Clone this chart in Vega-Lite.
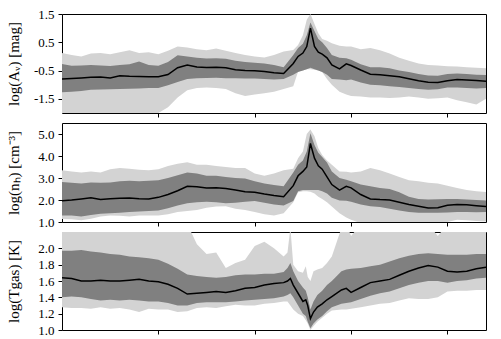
{
  "$schema": "https://vega.github.io/schema/vega-lite/v6.json",
  "padding": {"left": 5, "top": 7, "right": 5, "bottom": 5},
  "background": "white",
  "datasets": {
    "av": [
      {"x":0,"m":-0.80,"d1":-0.27,"d2":-1.27,"l1":0.12,"l2":-2.0},
      {"x":0.5,"m":-0.78,"d1":-0.33,"d2":-1.25,"l1":0.05,"l2":-2.0},
      {"x":1,"m":-0.76,"d1":-0.32,"d2":-1.22,"l1":0.0,"l2":-2.0},
      {"x":1.5,"m":-0.74,"d1":-0.30,"d2":-1.18,"l1":0.10,"l2":-2.0},
      {"x":2,"m":-0.73,"d1":-0.32,"d2":-1.17,"l1":0.12,"l2":-2.0},
      {"x":2.5,"m":-0.76,"d1":-0.34,"d2":-1.16,"l1":0.08,"l2":-2.0},
      {"x":3,"m":-0.68,"d1":-0.30,"d2":-1.15,"l1":0.15,"l2":-2.0},
      {"x":3.5,"m":-0.70,"d1":-0.28,"d2":-1.14,"l1":0.22,"l2":-2.0},
      {"x":4,"m":-0.71,"d1":-0.18,"d2":-1.13,"l1":0.12,"l2":-2.0},
      {"x":4.5,"m":-0.72,"d1":-0.30,"d2":-1.12,"l1":0.15,"l2":-2.0},
      {"x":5,"m":-0.72,"d1":-0.33,"d2":-1.12,"l1":0.08,"l2":-2.0},
      {"x":5.5,"m":-0.64,"d1":-0.20,"d2":-1.02,"l1":0.20,"l2":-1.8},
      {"x":6,"m":-0.40,"d1":0.04,"d2":-0.90,"l1":0.35,"l2":-1.45},
      {"x":6.5,"m":-0.30,"d1":0.00,"d2":-0.80,"l1":0.32,"l2":-1.20},
      {"x":7,"m":-0.37,"d1":-0.05,"d2":-0.77,"l1":0.25,"l2":-1.12},
      {"x":7.5,"m":-0.39,"d1":-0.07,"d2":-0.76,"l1":0.22,"l2":-1.10},
      {"x":8,"m":-0.38,"d1":-0.06,"d2":-0.75,"l1":0.28,"l2":-1.12},
      {"x":8.5,"m":-0.40,"d1":-0.08,"d2":-0.77,"l1":0.20,"l2":-1.15},
      {"x":9,"m":-0.47,"d1":-0.15,"d2":-0.77,"l1":0.12,"l2":-1.30},
      {"x":9.5,"m":-0.50,"d1":-0.20,"d2":-0.78,"l1":0.05,"l2":-1.40},
      {"x":10,"m":-0.51,"d1":-0.22,"d2":-0.78,"l1":0.00,"l2":-1.35},
      {"x":10.5,"m":-0.53,"d1":-0.25,"d2":-0.80,"l1":-0.04,"l2":-1.30},
      {"x":11,"m":-0.58,"d1":-0.30,"d2":-0.82,"l1":0.05,"l2":-1.25},
      {"x":11.5,"m":-0.60,"d1":-0.38,"d2":-0.80,"l1":0.17,"l2":-1.15},
      {"x":12,"m":-0.25,"d1":0.05,"d2":-0.65,"l1":0.23,"l2":-1.05},
      {"x":12.25,"m":0.0,"d1":0.30,"d2":-0.55,"l1":0.40,"l2":-0.53},
      {"x":12.5,"m":0.12,"d1":0.45,"d2":-0.50,"l1":0.75,"l2":-0.50},
      {"x":12.7,"m":0.35,"d1":0.75,"d2":-0.45,"l1":1.30,"l2":-0.45},
      {"x":12.89,"m":1.0,"d1":1.2,"d2":-0.40,"l1":1.5,"l2":-0.45},
      {"x":13.1,"m":0.35,"d1":0.9,"d2":-0.45,"l1":1.15,"l2":-0.47},
      {"x":13.3,"m":0.15,"d1":0.62,"d2":-0.50,"l1":0.82,"l2":-0.50},
      {"x":13.5,"m":0.08,"d1":0.5,"d2":-0.55,"l1":0.62,"l2":-0.55},
      {"x":13.75,"m":-0.05,"d1":0.3,"d2":-0.65,"l1":0.55,"l2":-0.8},
      {"x":14,"m":-0.30,"d1":0.05,"d2":-0.80,"l1":0.47,"l2":-1.0},
      {"x":14.4,"m":-0.44,"d1":-0.05,"d2":-0.82,"l1":0.38,"l2":-1.25},
      {"x":14.75,"m":-0.26,"d1":-0.06,"d2":-0.84,"l1":0.35,"l2":-1.35},
      {"x":15,"m":-0.32,"d1":-0.12,"d2":-0.82,"l1":0.35,"l2":-1.40},
      {"x":15.5,"m":-0.48,"d1":-0.28,"d2":-0.92,"l1":0.25,"l2":-1.42},
      {"x":16,"m":-0.63,"d1":-0.38,"d2":-1.0,"l1":0.30,"l2":-1.45},
      {"x":16.5,"m":-0.65,"d1":-0.38,"d2":-1.02,"l1":0.22,"l2":-1.45},
      {"x":17,"m":-0.68,"d1":-0.42,"d2":-1.05,"l1":0.10,"l2":-1.47},
      {"x":17.5,"m":-0.72,"d1":-0.50,"d2":-1.08,"l1":-0.05,"l2":-1.45},
      {"x":18,"m":-0.79,"d1":-0.55,"d2":-1.12,"l1":-0.15,"l2":-1.42},
      {"x":18.5,"m":-0.86,"d1":-0.62,"d2":-1.15,"l1":-0.25,"l2":-1.45},
      {"x":19,"m":-0.91,"d1":-0.67,"d2":-1.18,"l1":-0.30,"l2":-1.50},
      {"x":19.5,"m":-0.92,"d1":-0.68,"d2":-1.16,"l1":-0.32,"l2":-1.48},
      {"x":20,"m":-0.86,"d1":-0.62,"d2":-1.10,"l1":-0.35,"l2":-1.45},
      {"x":20.5,"m":-0.82,"d1":-0.60,"d2":-1.10,"l1":-0.36,"l2":-1.55},
      {"x":21,"m":-0.83,"d1":-0.62,"d2":-1.12,"l1":-0.38,"l2":-1.62},
      {"x":21.5,"m":-0.85,"d1":-0.65,"d2":-1.13,"l1":-0.40,"l2":-1.70},
      {"x":22,"m":-0.88,"d1":-0.66,"d2":-1.12,"l1":-0.42,"l2":-1.50}
    ],
    "nh": [
      {"x":0,"m":1.97,"d1":2.82,"d2":1.29,"l1":3.35,"l2":1.14},
      {"x":0.5,"m":2.0,"d1":2.78,"d2":1.30,"l1":3.30,"l2":1.12},
      {"x":1,"m":2.05,"d1":2.75,"d2":1.25,"l1":3.25,"l2":1.08},
      {"x":1.5,"m":2.10,"d1":2.80,"d2":1.32,"l1":3.30,"l2":1.15},
      {"x":2,"m":2.02,"d1":2.78,"d2":1.38,"l1":3.25,"l2":1.25},
      {"x":2.5,"m":2.06,"d1":2.80,"d2":1.40,"l1":3.40,"l2":1.30},
      {"x":3,"m":2.08,"d1":2.85,"d2":1.42,"l1":3.45,"l2":1.28},
      {"x":3.5,"m":2.09,"d1":2.87,"d2":1.45,"l1":3.42,"l2":1.25},
      {"x":4,"m":2.06,"d1":2.85,"d2":1.48,"l1":3.38,"l2":1.30},
      {"x":4.5,"m":2.05,"d1":2.88,"d2":1.50,"l1":3.35,"l2":1.30},
      {"x":5,"m":2.12,"d1":2.90,"d2":1.52,"l1":3.40,"l2":1.30},
      {"x":5.5,"m":2.25,"d1":3.00,"d2":1.62,"l1":3.55,"l2":1.35},
      {"x":6,"m":2.42,"d1":3.12,"d2":1.75,"l1":3.65,"l2":1.45},
      {"x":6.5,"m":2.62,"d1":3.25,"d2":1.85,"l1":3.72,"l2":1.50},
      {"x":7,"m":2.60,"d1":3.20,"d2":1.90,"l1":3.60,"l2":1.55},
      {"x":7.5,"m":2.55,"d1":3.10,"d2":1.92,"l1":3.60,"l2":1.65},
      {"x":8,"m":2.56,"d1":3.10,"d2":1.90,"l1":3.55,"l2":1.70},
      {"x":8.5,"m":2.52,"d1":3.05,"d2":1.85,"l1":3.50,"l2":1.72},
      {"x":9,"m":2.45,"d1":3.00,"d2":1.88,"l1":3.45,"l2":1.60},
      {"x":9.5,"m":2.38,"d1":2.98,"d2":1.92,"l1":3.45,"l2":1.55},
      {"x":10,"m":2.35,"d1":2.85,"d2":1.95,"l1":3.20,"l2":1.45},
      {"x":10.5,"m":2.27,"d1":2.75,"d2":1.88,"l1":3.10,"l2":1.35},
      {"x":11,"m":2.20,"d1":2.68,"d2":1.80,"l1":3.20,"l2":1.30},
      {"x":11.5,"m":2.15,"d1":2.62,"d2":1.75,"l1":3.35,"l2":1.40},
      {"x":12,"m":2.65,"d1":3.25,"d2":1.95,"l1":3.42,"l2":1.90},
      {"x":12.25,"m":3.10,"d1":3.60,"d2":2.40,"l1":3.90,"l2":2.35},
      {"x":12.5,"m":3.30,"d1":3.80,"d2":2.45,"l1":4.20,"l2":2.40},
      {"x":12.7,"m":3.50,"d1":4.20,"d2":2.45,"l1":5.00,"l2":2.40},
      {"x":12.89,"m":4.57,"d1":5.03,"d2":2.45,"l1":5.20,"l2":2.38},
      {"x":13.1,"m":3.90,"d1":4.50,"d2":2.45,"l1":4.90,"l2":2.30},
      {"x":13.3,"m":3.55,"d1":4.15,"d2":2.45,"l1":4.35,"l2":2.15},
      {"x":13.5,"m":3.40,"d1":3.95,"d2":2.40,"l1":4.05,"l2":2.05},
      {"x":13.75,"m":3.05,"d1":3.70,"d2":2.30,"l1":3.80,"l2":1.90},
      {"x":14,"m":2.70,"d1":3.30,"d2":2.10,"l1":3.60,"l2":1.70},
      {"x":14.4,"m":2.45,"d1":3.00,"d2":1.98,"l1":3.30,"l2":1.40},
      {"x":14.75,"m":2.62,"d1":2.92,"d2":1.97,"l1":3.28,"l2":1.20},
      {"x":15,"m":2.55,"d1":2.85,"d2":1.92,"l1":3.25,"l2":1.10},
      {"x":15.5,"m":2.25,"d1":2.70,"d2":1.80,"l1":3.30,"l2":0.95},
      {"x":16,"m":2.05,"d1":2.62,"d2":1.72,"l1":3.45,"l2":0.90},
      {"x":16.5,"m":2.02,"d1":2.55,"d2":1.68,"l1":3.35,"l2":0.90},
      {"x":17,"m":2.00,"d1":2.50,"d2":1.60,"l1":3.20,"l2":0.90},
      {"x":17.5,"m":1.90,"d1":2.35,"d2":1.52,"l1":3.05,"l2":0.90},
      {"x":18,"m":1.80,"d1":2.15,"d2":1.46,"l1":2.90,"l2":0.90},
      {"x":18.5,"m":1.72,"d1":2.05,"d2":1.42,"l1":2.85,"l2":0.90},
      {"x":19,"m":1.64,"d1":2.02,"d2":1.42,"l1":2.78,"l2":0.90},
      {"x":19.5,"m":1.65,"d1":2.03,"d2":1.42,"l1":2.75,"l2":0.90},
      {"x":20,"m":1.76,"d1":2.05,"d2":1.43,"l1":2.65,"l2":1.00},
      {"x":20.5,"m":1.79,"d1":2.05,"d2":1.45,"l1":2.55,"l2":1.10},
      {"x":21,"m":1.78,"d1":2.02,"d2":1.45,"l1":2.45,"l2":1.08},
      {"x":21.5,"m":1.74,"d1":2.00,"d2":1.44,"l1":2.40,"l2":1.05},
      {"x":22,"m":1.70,"d1":1.98,"d2":1.45,"l1":2.36,"l2":1.02}
    ],
    "tg": [
      {"x":0,"m":1.64,"d1":1.97,"d2":1.40,"l1":2.3,"l2":1.28},
      {"x":0.5,"m":1.63,"d1":1.97,"d2":1.41,"l1":2.3,"l2":1.27},
      {"x":1,"m":1.60,"d1":1.98,"d2":1.40,"l1":2.3,"l2":1.27},
      {"x":1.5,"m":1.60,"d1":1.96,"d2":1.38,"l1":2.3,"l2":1.26},
      {"x":2,"m":1.61,"d1":1.95,"d2":1.36,"l1":2.3,"l2":1.28},
      {"x":2.5,"m":1.60,"d1":1.93,"d2":1.37,"l1":2.3,"l2":1.26},
      {"x":3,"m":1.60,"d1":1.92,"d2":1.36,"l1":2.3,"l2":1.27},
      {"x":3.5,"m":1.61,"d1":1.90,"d2":1.37,"l1":2.3,"l2":1.25},
      {"x":4,"m":1.62,"d1":1.89,"d2":1.36,"l1":2.3,"l2":1.22},
      {"x":4.5,"m":1.60,"d1":1.88,"d2":1.35,"l1":2.3,"l2":1.26},
      {"x":5,"m":1.59,"d1":1.86,"d2":1.35,"l1":2.3,"l2":1.25},
      {"x":5.5,"m":1.56,"d1":1.81,"d2":1.33,"l1":2.3,"l2":1.25},
      {"x":6,"m":1.51,"d1":1.75,"d2":1.30,"l1":2.3,"l2":1.22},
      {"x":6.5,"m":1.44,"d1":1.68,"d2":1.30,"l1":2.3,"l2":1.23},
      {"x":7,"m":1.45,"d1":1.66,"d2":1.33,"l1":2.05,"l2":1.27},
      {"x":7.5,"m":1.46,"d1":1.65,"d2":1.34,"l1":1.93,"l2":1.28},
      {"x":8,"m":1.47,"d1":1.64,"d2":1.34,"l1":1.95,"l2":1.27},
      {"x":8.5,"m":1.46,"d1":1.65,"d2":1.34,"l1":1.76,"l2":1.29},
      {"x":9,"m":1.48,"d1":1.67,"d2":1.35,"l1":1.82,"l2":1.31},
      {"x":9.5,"m":1.51,"d1":1.68,"d2":1.36,"l1":1.86,"l2":1.30},
      {"x":10,"m":1.52,"d1":1.68,"d2":1.37,"l1":2.03,"l2":1.30},
      {"x":10.5,"m":1.55,"d1":1.69,"d2":1.38,"l1":2.08,"l2":1.32},
      {"x":11,"m":1.57,"d1":1.69,"d2":1.39,"l1":2.00,"l2":1.33},
      {"x":11.5,"m":1.58,"d1":1.71,"d2":1.41,"l1":1.90,"l2":1.35},
      {"x":11.7,"m":1.60,"d1":1.76,"d2":1.43,"l1":1.95,"l2":1.35},
      {"x":11.85,"m":1.63,"d1":1.82,"d2":1.45,"l1":2.25,"l2":1.30},
      {"x":12,"m":1.55,"d1":1.72,"d2":1.40,"l1":1.80,"l2":1.25},
      {"x":12.25,"m":1.45,"d1":1.60,"d2":1.30,"l1":1.72,"l2":1.20},
      {"x":12.5,"m":1.35,"d1":1.52,"d2":1.20,"l1":1.70,"l2":1.17},
      {"x":12.65,"m":1.37,"d1":1.48,"d2":1.17,"l1":1.78,"l2":1.12},
      {"x":12.75,"m":1.30,"d1":1.40,"d2":1.10,"l1":1.65,"l2":1.08},
      {"x":12.89,"m":1.14,"d1":1.25,"d2":1.02,"l1":1.60,"l2":1.00},
      {"x":13.05,"m":1.22,"d1":1.35,"d2":1.08,"l1":1.72,"l2":1.05},
      {"x":13.25,"m":1.28,"d1":1.43,"d2":1.13,"l1":1.74,"l2":1.10},
      {"x":13.5,"m":1.32,"d1":1.48,"d2":1.17,"l1":1.76,"l2":1.15},
      {"x":13.75,"m":1.37,"d1":1.55,"d2":1.23,"l1":1.82,"l2":1.20},
      {"x":14,"m":1.41,"d1":1.60,"d2":1.28,"l1":1.90,"l2":1.24},
      {"x":14.5,"m":1.49,"d1":1.72,"d2":1.32,"l1":2.25,"l2":1.25},
      {"x":14.75,"m":1.51,"d1":1.74,"d2":1.33,"l1":2.30,"l2":1.25},
      {"x":15,"m":1.46,"d1":1.75,"d2":1.34,"l1":2.15,"l2":1.26},
      {"x":15.5,"m":1.52,"d1":1.76,"d2":1.38,"l1":2.30,"l2":1.28},
      {"x":16,"m":1.58,"d1":1.78,"d2":1.42,"l1":2.30,"l2":1.30},
      {"x":16.5,"m":1.60,"d1":1.80,"d2":1.45,"l1":2.30,"l2":1.32},
      {"x":17,"m":1.62,"d1":1.84,"d2":1.47,"l1":2.30,"l2":1.33},
      {"x":17.5,"m":1.67,"d1":1.88,"d2":1.51,"l1":2.30,"l2":1.36},
      {"x":18,"m":1.72,"d1":1.91,"d2":1.55,"l1":2.30,"l2":1.39},
      {"x":18.5,"m":1.76,"d1":1.93,"d2":1.58,"l1":2.30,"l2":1.38},
      {"x":19,"m":1.79,"d1":1.94,"d2":1.60,"l1":2.30,"l2":1.38},
      {"x":19.5,"m":1.77,"d1":1.93,"d2":1.60,"l1":2.15,"l2":1.40},
      {"x":20,"m":1.72,"d1":1.92,"d2":1.58,"l1":2.30,"l2":1.47},
      {"x":20.5,"m":1.71,"d1":1.92,"d2":1.60,"l1":2.30,"l2":1.48},
      {"x":21,"m":1.72,"d1":1.92,"d2":1.61,"l1":2.30,"l2":1.48},
      {"x":21.5,"m":1.75,"d1":1.93,"d2":1.63,"l1":2.30,"l2":1.49},
      {"x":22,"m":1.77,"d1":1.93,"d2":1.64,"l1":2.30,"l2":1.49}
    ]
  },
  "spacing": 10,
  "bounds": "flush",
  "vconcat": [
    {
      "width": 424, "height": 99,
      "data": {"name": "av"},
      "encoding": {"x": {"field": "x", "type": "quantitative", "scale": {"domain": [0, 22], "nice": false}, "axis": {"values": [5, 10, 15, 20], "labels": false, "title": null}}},
      "layer": [
        {"mark": {"type": "area", "color": "#d3d3d3", "clip": true}, "encoding": {"y": {"field": "l2", "type": "quantitative", "scale": {"domain": [-2, 1.5], "nice": false, "zero": false}, "axis": {"title": "log(Aᵥ) [mag]", "values": [-1.5, -0.5, 0.5, 1.5], "labelOverlap": false, "labelExpr": "replace(format(datum.value, '.1f'), '−', '-')", "titleX": -44, "titleY": 49.5}}, "y2": {"field": "l1"}}},
        {"mark": {"type": "area", "color": "#808080", "clip": true}, "encoding": {"y": {"field": "d2", "type": "quantitative", "axis": {"title": "log(Aᵥ) [mag]", "values": [-1.5, -0.5, 0.5, 1.5], "labelOverlap": false, "labelExpr": "replace(format(datum.value, '.1f'), '−', '-')", "titleX": -44, "titleY": 49.5}}, "y2": {"field": "d1"}}},
        {"mark": {"type": "line", "color": "black", "strokeWidth": 1.5, "clip": true}, "encoding": {"y": {"field": "m", "type": "quantitative", "axis": {"title": "log(Aᵥ) [mag]", "values": [-1.5, -0.5, 0.5, 1.5], "labelOverlap": false, "labelExpr": "replace(format(datum.value, '.1f'), '−', '-')", "titleX": -44, "titleY": 49.5}}}}
      ]
    },
    {
      "width": 424, "height": 99,
      "data": {"name": "nh"},
      "encoding": {"x": {"field": "x", "type": "quantitative", "scale": {"domain": [0, 22], "nice": false}, "axis": {"values": [5, 10, 15, 20], "labels": false, "title": null}}},
      "layer": [
        {"mark": {"type": "area", "color": "#d3d3d3", "clip": true}, "encoding": {"y": {"field": "l2", "type": "quantitative", "scale": {"domain": [1, 5.5], "nice": false, "zero": false}, "axis": {"title": "log(nₕ) [cm⁻³]", "values": [1, 2, 3, 4, 5], "labelOverlap": false, "format": ".1f", "titleX": -44, "titleY": 49.5}}, "y2": {"field": "l1"}}},
        {"mark": {"type": "area", "color": "#808080", "clip": true}, "encoding": {"y": {"field": "d2", "type": "quantitative", "axis": {"title": "log(nₕ) [cm⁻³]", "values": [1, 2, 3, 4, 5], "labelOverlap": false, "format": ".1f", "titleX": -44, "titleY": 49.5}}, "y2": {"field": "d1"}}},
        {"mark": {"type": "line", "color": "black", "strokeWidth": 1.5, "clip": true}, "encoding": {"y": {"field": "m", "type": "quantitative", "axis": {"title": "log(nₕ) [cm⁻³]", "values": [1, 2, 3, 4, 5], "labelOverlap": false, "format": ".1f", "titleX": -44, "titleY": 49.5}}}}
      ]
    },
    {
      "width": 424, "height": 98,
      "data": {"name": "tg"},
      "encoding": {"x": {"field": "x", "type": "quantitative", "scale": {"domain": [0, 22], "nice": false}, "axis": {"values": [5, 10, 15, 20], "labels": false, "title": null}}},
      "layer": [
        {"mark": {"type": "area", "color": "#d3d3d3", "clip": true}, "encoding": {"y": {"field": "l2", "type": "quantitative", "scale": {"domain": [1.0, 2.2], "nice": false, "zero": false}, "axis": {"title": "log(Tgas) [K]", "values": [1.0, 1.2, 1.4, 1.6, 1.8, 2.0], "labelOverlap": false, "format": ".1f", "titleX": -44, "titleY": 49}}, "y2": {"field": "l1"}}},
        {"mark": {"type": "area", "color": "#808080", "clip": true}, "encoding": {"y": {"field": "d2", "type": "quantitative", "axis": {"title": "log(Tgas) [K]", "values": [1.0, 1.2, 1.4, 1.6, 1.8, 2.0], "labelOverlap": false, "format": ".1f", "titleX": -44, "titleY": 49}}, "y2": {"field": "d1"}}},
        {"mark": {"type": "line", "color": "black", "strokeWidth": 1.5, "clip": true}, "encoding": {"y": {"field": "m", "type": "quantitative", "axis": {"title": "log(Tgas) [K]", "values": [1.0, 1.2, 1.4, 1.6, 1.8, 2.0], "labelOverlap": false, "format": ".1f", "titleX": -44, "titleY": 49}}}}
      ]
    }
  ],
  "config": {
    "view": {"stroke": "black", "strokeWidth": 1},
    "axis": {"grid": false, "domain": false, "ticks": true, "tickColor": "black", "tickSize": 4, "tickWidth": 1, "labelFont": "Liberation Serif", "labelFontSize": 13, "labelColor": "black", "labelPadding": 4, "labelOverlap": false, "labelFlush": false, "labelBound": false, "titleFont": "Liberation Serif", "titleFontSize": 15, "titleFontWeight": "normal", "titleColor": "black", "titleBaseline": "alphabetic", "titleAlign": "center"}
  }
}
